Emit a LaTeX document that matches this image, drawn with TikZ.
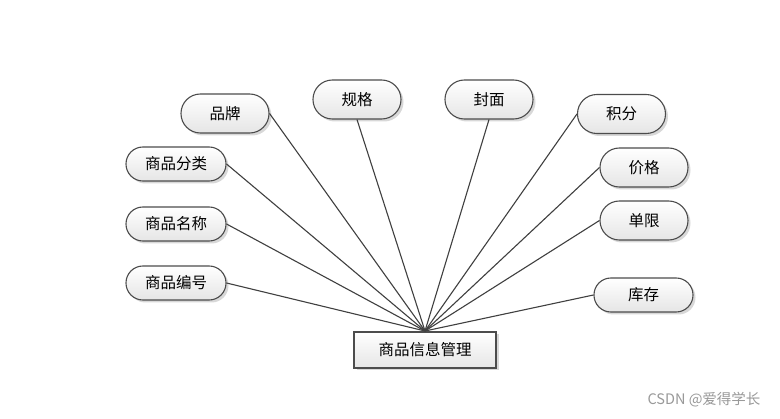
\documentclass[tikz,border=0pt]{standalone}
\usepackage{fontspec}
\setmainfont{Noto Sans CJK SC}
\usetikzlibrary{shadows}
\begin{document}
\begin{tikzpicture}[x=1pt,y=-1pt,
  attr/.style={draw=black!70, line width=1.1pt, rounded corners=19.4pt, inner sep=0pt,
    minimum width=88pt, minimum height=39pt, top color=white, bottom color=black!10,
    drop shadow={shadow xshift=2.5pt, shadow yshift=-2.5pt, fill=black!25, opacity=0.6},
    font=\fontsize{15.5}{17}\selectfont},
  attrw/.style={attr, minimum width=100pt, minimum height=34pt, rounded corners=16.9pt},
  ent/.style={draw=black!70, line width=1.1pt, inner sep=0pt,
    minimum width=142pt, minimum height=36pt, top color=white, bottom color=black!10,
    drop shadow={shadow xshift=2.5pt, shadow yshift=-2.5pt, fill=black!25, opacity=0.6},
    font=\fontsize{15.5}{17}\selectfont},
  link/.style={draw=black!75, line width=1.1pt}]
\useasboundingbox[fill=white] (0,0) rectangle (780,419);
\node[ent] (main) at (425,350) {商品信息管理};
\node[attr] (pinpai) at (225,113.5) {品牌};
\node[attr] (guige) at (357,99.5) {规格};
\node[attr] (fengmian) at (489,99.5) {封面};
\node[attr] (jifen) at (621.5,114) {积分};
\node[attrw] (fenlei) at (176,164) {商品分类};
\node[attr] (jiage) at (644,167.5) {价格};
\node[attrw] (mingcheng) at (176,224) {商品名称};
\node[attr] (danxian) at (644,220.5) {单限};
\node[attrw] (bianhao) at (176,283) {商品编号};
\node[attrw, minimum width=99pt] (kucun) at (643.5,295) {库存};
\coordinate (hub) at (425,331);
\draw[link] (pinpai.east) -- (hub);
\draw[link] (guige.south) -- (hub);
\draw[link] (fengmian.south) -- (hub);
\draw[link] (jifen.west) -- (hub);
\draw[link] (fenlei.east) -- (hub);
\draw[link] (jiage.west) -- (hub);
\draw[link] (mingcheng.east) -- (hub);
\draw[link] (danxian.west) -- (hub);
\draw[link] (bianhao.east) -- (hub);
\draw[link] (kucun.west) -- (hub);
\node[text=black!40, font=\fontsize{14.5}{16}\selectfont, anchor=east] (wm) at (764,400) {CSDN @爱得学长};
\end{tikzpicture}
\end{document}
